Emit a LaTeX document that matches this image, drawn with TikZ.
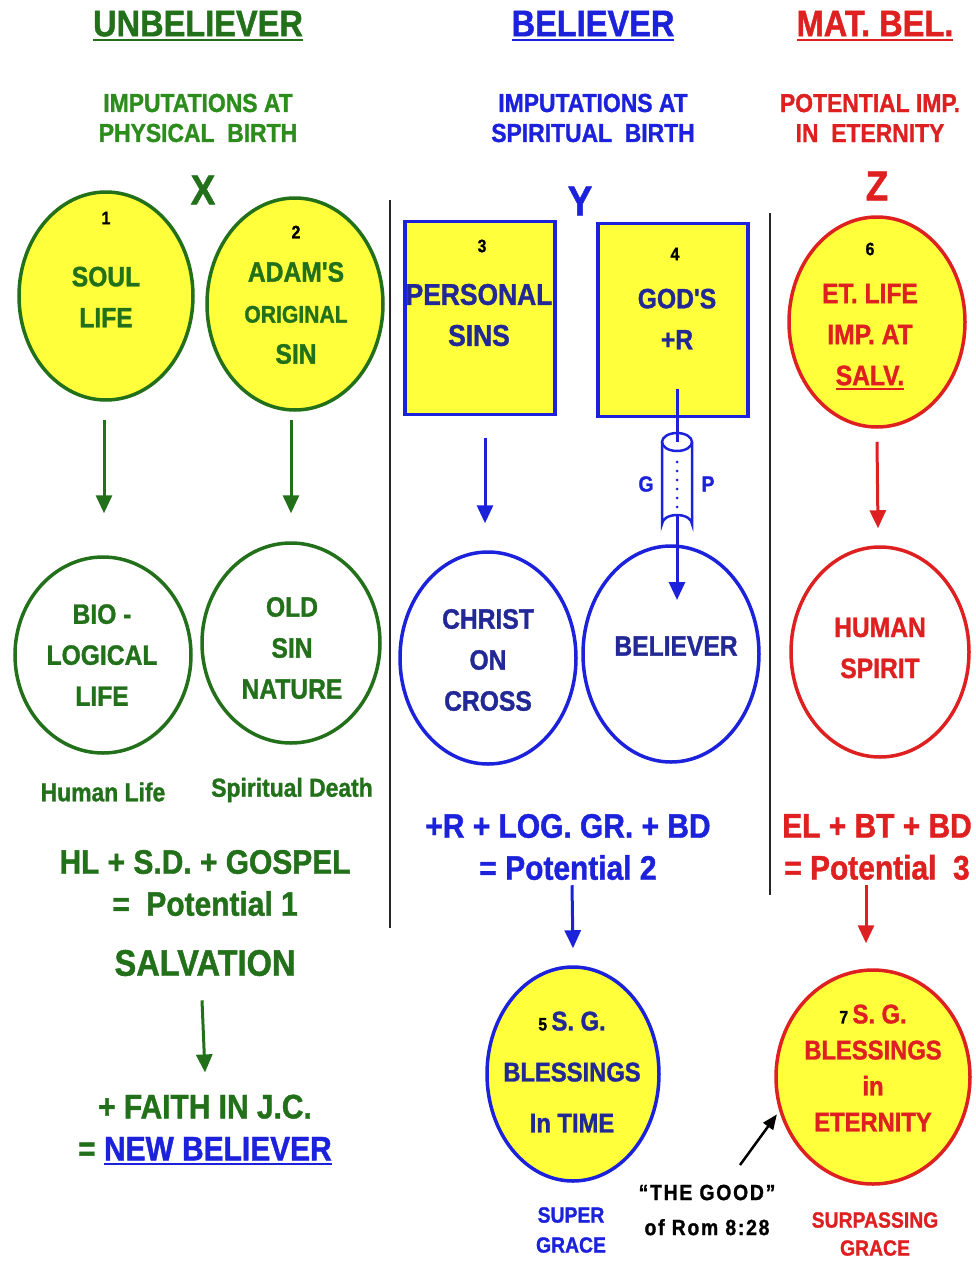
\documentclass[tikz,border=0pt]{standalone}
\usepackage{fontspec}
\usepackage{tikz}
\usetikzlibrary{shapes.geometric,arrows.meta}
\newfontfamily\dfont[FakeStretch=0.88,BoldFeatures={FakeBold=1.2}]{Liberation Sans}
\definecolor{dgreen}{RGB}{34,112,26}
\definecolor{lgreen}{RGB}{44,140,28}
\definecolor{bblue}{RGB}{28,34,220}
\definecolor{nblue}{RGB}{34,40,150}
\definecolor{rred}{RGB}{222,32,32}
\definecolor{yellowf}{RGB}{255,255,60}
\newcommand\ulbar[1]{\setbox0=\hbox{#1}\rlap{\rule[-5pt]{\wd0}{2.6pt}}\box0}
\newcommand\fs[2]{\fontsize{#1}{#2}\selectfont}

\begin{document}
\begin{tikzpicture}[x=1pt,y=-1pt,
  every node/.style={font=\dfont\bfseries, inner sep=0pt, align=center},
  head/.style={font=\dfont\bfseries\fs{37}{40}},
  subhead/.style={font=\dfont\bfseries\fs{26}{30}},
  letter/.style={font=\dfont\bfseries\fs{42}{42}},
  ctext/.style={font=\dfont\bfseries\fs{28}{41}},
  num/.style={font=\dfont\bfseries\fs{18}{18}, text=black},
  eqn/.style={font=\dfont\bfseries\fs{34}{42}},
  small/.style={font=\dfont\bfseries\fs{26}{30}},
  yell/.style={ellipse, draw, fill=yellowf, line width=3.5pt},
  ring/.style={ellipse, draw, line width=3.5pt},
  box/.style={rectangle, draw=bblue, fill=yellowf, line width=3.5pt, minimum width=150pt, minimum height=193pt},
  tip/.style={-{Triangle[length=18pt,width=16pt]}, line width=3pt}]
\useasboundingbox (0,0) rectangle (975,1261);

% headings
\node[head, text=dgreen] (h1) at (198,26) {\ulbar{UNBELIEVER}};
\node[head, text=bblue] (h2) at (593,26) {\ulbar{BELIEVER}};
\node[head, text=rred] (h3) at (875,26) {\ulbar{MAT. BEL.}};
\node[subhead, text=lgreen] (sub1) at (198,118) {IMPUTATIONS AT\\PHYSICAL\ \ BIRTH};
\node[subhead, text=bblue] (sub2) at (593,118) {IMPUTATIONS AT\\SPIRITUAL\ \ BIRTH};
\node[subhead, text=rred] (sub3) at (870,118) {POTENTIAL IMP.\\IN\ \ ETERNITY};
\node[letter, text=dgreen] (x) at (203,190) {X};
\node[letter, text=bblue] (y) at (580,201) {Y};
\node[letter, text=rred] (z) at (877,186) {Z};

\draw[line width=2.5pt, black!85] (390,200) -- (390,928);
\draw[line width=2.5pt, black!85] (770,213) -- (770,895);

% top row
\node[yell, draw=dgreen, minimum width=174pt, minimum height=208pt] (c1) at (106,296) {};
\node[yell, draw=dgreen, minimum width=176pt, minimum height=212pt] (c2) at (295,304) {};
\node[box] (s3) at (480,318) {};
\node[box] (s4) at (673,320) {};
\node[yell, draw=rred, minimum width=176pt, minimum height=210pt] (c6) at (877,322) {};
\node[num] (n1) at (106,218) {1};
\node[num] (n2) at (296,232) {2};
\node[num] (n3) at (482,246) {3};
\node[num] (n4) at (675,254) {4};
\node[num] (n6) at (870,249) {6};
\node[ctext, text=dgreen] (t1) at (106,297) {SOUL\\LIFE};
\node[ctext, text=dgreen] (t2) at (296,313) {ADAM'S\\{\fs{24}{41}ORIGINAL}\\SIN};
\node[ctext, text=nblue, font=\dfont\bfseries\fs{30}{41}] (t3) at (479,315) {PERSONAL\\SINS};
\node[ctext, text=nblue] (t4) at (677,319) {GOD'S\\+R};
\node[ctext, text=rred] (t6) at (870,337) {ET. LIFE\\IMP. AT\\\ulbar{SALV.}};

% second row
\node[ring, draw=dgreen, minimum width=176pt, minimum height=196pt] (bio) at (103,655) {};
\node[ring, draw=dgreen, minimum width=178pt, minimum height=200pt] (osn) at (291,643) {};
\node[ring, draw=bblue, minimum width=176pt, minimum height=212pt] (cross) at (488,658) {};
\node[ring, draw=bblue, minimum width=176pt, minimum height=216pt] (bel) at (671,654) {};
\node[ring, draw=rred, minimum width=178pt, minimum height=210pt] (hs) at (880,652) {};
\node[ctext, text=dgreen] (tbio) at (102,655) {BIO -\\LOGICAL\\LIFE};
\node[ctext, text=dgreen] (tosn) at (292,648) {OLD\\SIN\\NATURE};
\node[ctext, text=nblue] (tcross) at (488,660) {CHRIST\\ON\\CROSS};
\node[ctext, text=nblue] (tbel) at (676,646) {BELIEVER};
\node[ctext, text=rred] (ths) at (880,648) {HUMAN\\SPIRIT};
\node[small, text=dgreen] (hl) at (103,792) {Human Life};
\node[small, text=dgreen] (sd) at (292,790) {Spiritual Death};

% arrows
\draw[tip, dgreen] ([xshift=-2pt,yshift=-18pt]c1.south) -- ([xshift=1pt,yshift=42pt]bio.north);
\draw[tip, dgreen] ([xshift=-4pt,yshift=-8pt]c2.south) -- ([yshift=28pt]osn.north);
\draw[tip, bblue] ([xshift=5pt,yshift=-22pt]s3.south) -- ([xshift=-3pt,yshift=27pt]cross.north);
\draw[tip, rred] ([yshift=-13pt]c6.south) -- ([xshift=-2pt,yshift=17pt]hs.north);

% pipe
\coordinate (pipetip) at (677,600);
\draw[tip, bblue] ([xshift=4pt,yshift=29pt]s4.south) -- (pipetip);
\fill[white] (662,442) -- (662,524) arc[start angle=180, end angle=360, x radius=15, y radius=9] -- (692,442) -- cycle;
\draw[bblue, line width=2.5pt] (662,442) -- (662,524) arc[start angle=180, end angle=360, x radius=15, y radius=9] -- (692,442);
\draw[bblue, line width=2.5pt] (677,442) ellipse[x radius=15, y radius=9];
\draw[bblue, line width=3pt, line cap=round, dash pattern=on 0pt off 9pt] (677,462) -- (677,520);
\node[font=\dfont\bfseries\fs{22}{22}, text=bblue] (g) at (646,484) {G};
\node[font=\dfont\bfseries\fs{22}{22}, text=bblue] (p) at (708,484) {P};

% equations
\node[eqn, text=dgreen] (eq1) at (205,883) {HL + S.D. + GOSPEL\\=\ \ Potential 1};
\node[eqn, text=dgreen, font=\dfont\bfseries\fs{37}{42}] (salv) at (205,963) {SALVATION};
\node[eqn, text=dgreen] (faith) at (205,1130) {+ FAITH IN J.C.\\= \textcolor{bblue}{\ulbar{NEW BELIEVER}}};
\node[eqn, text=bblue] (eq2) at (568,847) {+R + LOG. GR. + BD\\= Potential 2};
\node[eqn, text=rred] (eq3) at (877,847) {EL + BT + BD\\= Potential\ \ 3};
\draw[tip, dgreen] ([xshift=-3pt,yshift=-24pt]salv.south) -- ([yshift=22pt]faith.north);

% bottom circles
\node[yell, draw=bblue, minimum width=172pt, minimum height=214pt] (c5) at (573,1074) {};
\node[yell, draw=rred, minimum width=194pt, minimum height=214pt] (c7) at (873,1077) {};
\node[ctext, text=nblue, font=\dfont\bfseries\fs{27}{51}] (t5) at (572,1072) {{\color{black}\fs{18}{18}5\ }S. G.\\BLESSINGS\\In TIME};
\node[ctext, text=rred, font=\dfont\bfseries\fs{27}{36}] (t7) at (873,1068) {{\color{black}\fs{18}{18}7\ }S. G.\\BLESSINGS\\in\\ETERNITY};
\draw[tip, bblue] ([xshift=4pt,yshift=-5pt]eq2.south) -- ([yshift=17pt]c5.north);
\draw[tip, rred] ([xshift=-11pt,yshift=-5pt]eq3.south) -- ([xshift=-7pt,yshift=25pt]c7.north);
\node[small, text=bblue, font=\dfont\bfseries\fs{22}{30}] (sg1) at (571,1230) {SUPER\\GRACE};
\node[small, text=rred, font=\dfont\bfseries\fs{22}{28}] (sg2) at (875,1234) {SURPASSING\\GRACE};
\node[font=\dfont\bfseries\fs{22}{35}\addfontfeature{LetterSpace=8}] (good) at (707,1210) {“THE GOOD”\\of Rom 8:28};
\coordinate (goodtail) at (740,1165);
\draw[tip, black, line width=2.5pt, -{Triangle[length=15pt,width=12pt]}, shorten >=4pt] (goodtail) -- (c7.200);
\end{tikzpicture}
\end{document}
